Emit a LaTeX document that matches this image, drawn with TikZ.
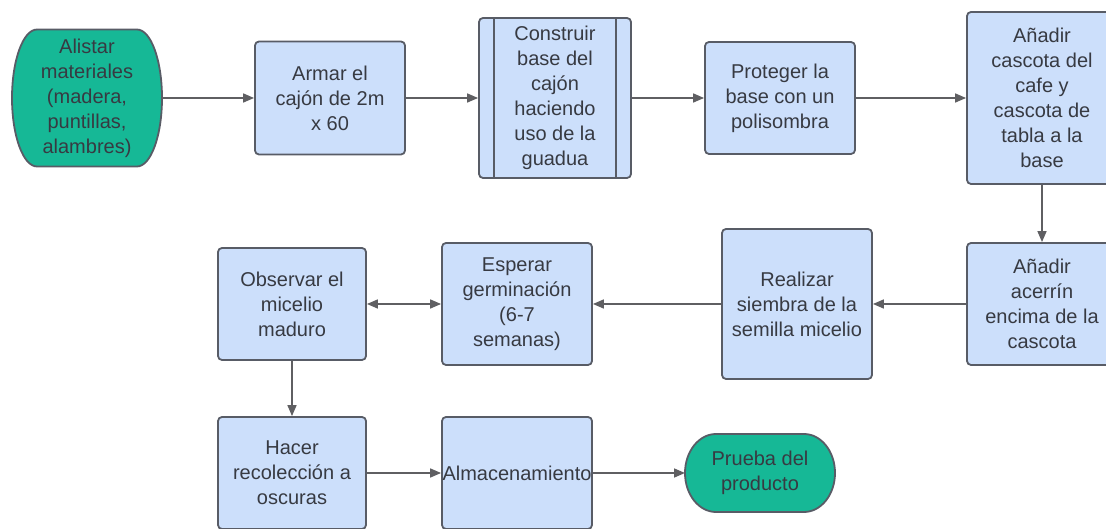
\documentclass[tikz,border=0pt]{standalone}
\usepackage{fontspec}
\setmainfont{Liberation Sans}
\usepackage{xcolor}
\usepackage{tikz}
\usetikzlibrary{shapes.geometric, arrows.meta, backgrounds}

\definecolor{cajaazul}{RGB}{204,223,251}
\definecolor{bordegris}{RGB}{88,92,102}
\definecolor{verdeterm}{RGB}{22,184,150}
\definecolor{textogris}{RGB}{55,58,66}
\definecolor{flechagris}{RGB}{95,95,98}

\tikzset{
  >={Triangle[length=11pt,width=9pt]},
  paso/.style={draw=bordegris, fill=cajaazul, line width=1.8pt, rounded corners=4pt,
    minimum width=150pt, align=center, text=textogris, inner sep=2pt,
    font=\fontsize{20}{25}\selectfont},
  terminal/.style={paso, draw=none, fill=none, outer sep=0pt},
  contorno/.style={draw=bordegris, fill=verdeterm, line width=1.8pt, sharp corners},
  flecha/.style={draw=flechagris, line width=1.6pt, ->},
}

\begin{document}
\begin{tikzpicture}[x=1pt, y=1pt]
        \useasboundingbox (0,0) rectangle (1106,529);

        \draw[contorno] (37,499.5) -- (137,499.5)
            arc[start angle=90, end angle=-90, x radius=25, y radius=68.5]
            -- (37,362.5)
            arc[start angle=270, end angle=90, x radius=25, y radius=68.5] -- cycle;
        \draw[contorno] (716,95) -- (804,95)
            arc[start angle=90, end angle=-90, x radius=31, y radius=39]
            -- (716,17)
            arc[start angle=270, end angle=90, x radius=31, y radius=39] -- cycle;

        \node[terminal, minimum height=137pt] (alistar) at (87,431)
            {Alistar\\materiales\\(madera,\\puntillas,\\alambres)};
        \node[paso, minimum height=113pt] (armar) at (330,431) {Armar el\\cajón de 2m\\x 60};
        \node[paso, minimum width=152pt, minimum height=160pt] (construir) at (555,431)
            {Construir\\base del\\cajón\\haciendo\\uso de la\\guadua};
        \node[paso, minimum height=112pt] (proteger) at (780,431) {Proteger la\\base con un\\polisombra};
        \node[paso, minimum height=172pt] (cascota) at (1042,431)
            {Añadir\\cascota del\\cafe y\\cascota de\\tabla a la\\base};

        \node[paso, minimum height=122pt] (acerrin) at (1042,225) {Añadir\\acerrín\\encima de la\\cascota};
        \node[paso, minimum height=150pt] (realizar) at (797,225) {Realizar\\siembra de la\\semilla micelio};
        \node[paso, minimum height=122pt] (esperar) at (517,225) {Esperar\\germinación\\(6-7\\semanas)};
        \node[paso, minimum width=148pt, minimum height=112pt] (observar) at (292,225)
            {Observar el\\micelio\\maduro};

        \node[paso, minimum width=148pt, minimum height=112pt] (hacer) at (292,56)
            {Hacer\\recolección a\\oscuras};
        \node[paso, minimum height=112pt, inner xsep=0pt] (almacen) at (517,56) {Almacenamiento};
        \node[terminal, minimum height=78pt] (prueba) at (760,56)
            {Prueba del\\producto};

        \draw[bordegris, line width=1.8pt] ([xshift=16pt]construir.north west) -- ([xshift=16pt]construir.south west);
        \draw[bordegris, line width=1.8pt] ([xshift=-16pt]construir.north east) -- ([xshift=-16pt]construir.south east);

        \draw[flecha] (alistar) -- (armar);
        \draw[flecha] (armar) -- (construir);
        \draw[flecha] (construir) -- (proteger);
        \draw[flecha] (proteger) -- (cascota);
        \draw[flecha] (cascota) -- (acerrin);
        \draw[flecha] (acerrin) -- (realizar);
        \draw[flecha] (realizar) -- (esperar);
        \draw[flecha, <->] (observar) -- (esperar);
        \draw[flecha] (observar) -- (hacer);
        \draw[flecha] (hacer) -- (almacen);
        \draw[flecha] (almacen) -- (prueba);
    \end{tikzpicture}
\end{document}
